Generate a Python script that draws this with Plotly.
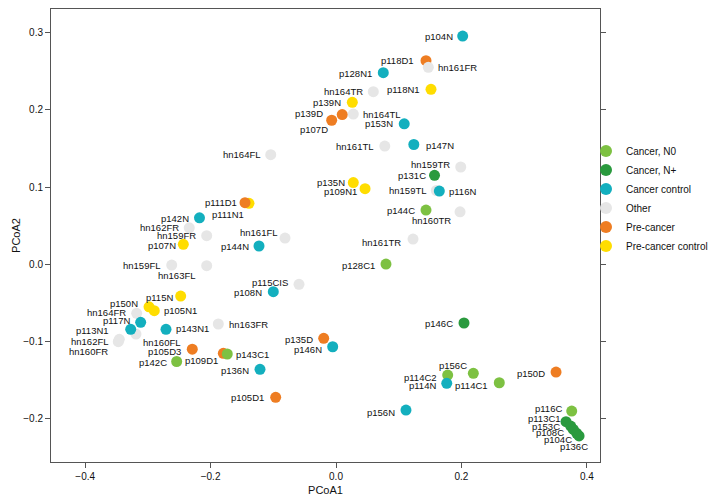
import plotly.graph_objects as go

# ---------------- data ----------------
n0_names = ["p144C", "p128C1", "p143C1", "p142C", "p156C", "p114C2", "p114C1", "p116C"]
n0_x = [0.1435, 0.0797, -0.1734, -0.2541, 0.219, 0.1781, 0.2604, 0.3759]
n0_y = [0.0702, 0.0004, -0.1160, -0.1257, -0.1410, -0.1432, -0.1532, -0.1898]

np_names = ["p131C", "p146C", "p113C1", "p153C", "p108C", "p104C", "p136C"]
np_x = [0.1571, 0.2041, 0.3668, 0.3743, 0.3785, 0.3839, 0.3876]
np_y = [0.1151, -0.0759, -0.2036, -0.2092, -0.2135, -0.2186, -0.2220]

cc_names = ["p104N", "p128N1", "p153N", "p147N", "p116N", "p142N", "p144N", "p108N",
            "p117N", "p113N1", "p143N1", "p136N", "p146N", "p114N", "p156N"]
cc_x = [0.202, 0.0754, 0.1088, 0.1241, 0.1648, -0.2177, -0.1228, -0.1000,
        -0.3115, -0.3274, -0.2711, -0.1212, -0.0053, 0.1766, 0.1116]
cc_y = [0.2953, 0.2479, 0.1818, 0.1550, 0.0948, 0.0602, 0.0237, -0.0354,
        -0.0750, -0.0841, -0.0841, -0.1358, -0.1066, -0.1539, -0.1885]

ot_names = ["hn161FR", "hn164TR", "hn164TL", "hn161TL", "hn164FL", "hn159TR", "hn159TL",
            "hn160TR", "hn161TR", "hn162FR", "hn159FR", "hn159FL", "hn163FL", "hn161FL",
            "p115CIS", "hn163FR", "hn164FR", "hn160FL", "hn162FL", "hn160FR"]
ot_x = [0.1472, 0.0595, 0.0276, 0.0778, -0.1041, 0.1989, 0.1600,
        0.1978, 0.1228, -0.2340, -0.2062, -0.2620, -0.2062, -0.0813,
        -0.0590, -0.1877, -0.3179, -0.3190, -0.3456, -0.3472]
ot_y = [0.2548, 0.2233, 0.1944, 0.1530, 0.1419, 0.1259, 0.0955,
        0.0680, 0.0327, 0.0473, 0.0370, -0.0009, -0.0018, 0.0340,
        -0.0259, -0.0772, -0.0634, -0.0902, -0.0970, -0.1001]

pc_names = ["p118D1", "p139D", "p107D", "p111D1", "p105D3", "p109D1", "p105D1", "p135D", "p150D"]
pc_x = [0.1435, 0.0099, -0.0069, -0.1451, -0.2292, -0.1797, -0.0962, -0.0196, 0.3509]
pc_y = [0.2634, 0.1938, 0.1864, 0.0797, -0.1098, -0.1151, -0.1721, -0.0957, -0.1393]

pcc_names = ["p118N1", "p139N", "p135N", "p109N1", "p111N1", "p107N", "p115N", "p150N", "p105N1"]
pcc_x = [0.1515, 0.0260, 0.0276, 0.0463, -0.1388, -0.2435, -0.2477, -0.2982, -0.2898]
pcc_y = [0.2264, 0.2096, 0.1057, 0.0978, 0.0789, 0.0259, -0.0410, -0.0549, -0.0600]

x_ticks = [-0.4, -0.2, 0.0, 0.2, 0.4]
x_tick_text = ["\u22120.4", "\u22120.2", "0.0", "0.2", "0.4"]
y_ticks = [-0.2, -0.1, 0.0, 0.1, 0.2, 0.3]
y_tick_text = ["\u22120.2", "\u22120.1", "0.0", "0.1", "0.2", "0.3"]

# ---------------- styling ----------------
# (group name, names, x, y, colour, legend rank) in drawing order
groups = [
    ("Pre-cancer control", pcc_names, pcc_x, pcc_y, "#FFDD00", 6),
    ("Pre-cancer", pc_names, pc_x, pc_y, "#EE7D22", 5),
    ("Other", ot_names, ot_x, ot_y, "#E6E6E6", 4),
    ("Cancer, N0", n0_names, n0_x, n0_y, "#7DC142", 1),
    ("Cancer, N+", np_names, np_x, np_y, "#2A9A3E", 2),
    ("Cancer control", cc_names, cc_x, cc_y, "#13AFBE", 3),
]

# label placement: (dx px, dy px downwards, side) side 'r' = text ends at dx, 'l' = text starts at dx
label_pos = {
    "p104N": (-8, 0, "r"), "p118D1": (-10, 0, "r"), "hn161FR": (8, 0, "l"), "p118N1": (-9, 0, "r"),
    "p128N1": (-9, 1, "r"), "hn164TR": (-8, 0, "r"), "p139N": (-9, 0, "r"), "p139D": (-17, -1, "r"),
    "p107D": (-2, 9, "r"), "hn164TL": (8, 0, "l"), "p153N": (-9, 0, "r"), "hn161TL": (-9, 0, "r"),
    "p147N": (10, 1, "l"), "hn164FL": (-8, 0, "r"), "hn159TR": (-9, -3, "r"), "p131C": (-7, 0, "r"),
    "p135N": (-6, 0, "r"), "p109N1": (-6, 3, "r"), "p116N": (8, 0, "l"), "hn159TL": (-7, 0, "r"),
    "p144C": (-9, 0, "r"), "hn160TR": (-7, 9, "r"), "hn161TR": (-10, 3, "r"), "p111D1": (-6, 0, "r"),
    "p111N1": (-3, 11, "r"), "p142N": (-8, 1, "r"), "hn162FR": (-8, 0, "r"), "hn159FR": (-9, 0, "r"),
    "p107N": (-5, 1, "r"), "hn159FL": (-9, 0, "r"), "hn163FL": (-9, 10, "r"), "p144N": (-8, 0, "r"),
    "hn161FL": (-5, -6, "r"), "p128C1": (-9, 1, "r"), "p115CIS": (-9, -2, "r"), "p108N": (-9, 1, "r"),
    "p135D": (-9, 1, "r"), "p146N": (-9, 3, "r"), "p143C1": (7, 0, "l"), "p109D1": (-3, 7, "r"),
    "p136N": (-9, 1, "r"), "p105D1": (-10, 0, "r"), "p105D3": (-9, 2, "r"), "p142C": (-8, 1, "r"),
    "p143N1": (8, -1, "l"), "hn163FR": (9, 0, "l"), "hn160FL": (5, 8, "l"), "p115N": (-6, 1, "r"),
    "p150N": (-9, -3, "r"), "p105N1": (8, 0, "l"), "hn164FR": (-9, -1, "r"), "p117N": (-9, -2, "r"),
    "p113N1": (-20, 1, "r"), "hn162FL": (-8, 2, "r"), "hn160FR": (-8, 10, "r"), "p156C": (-4, -8, "r"),
    "p114C2": (-9, 2, "r"), "p114N": (-9, 2, "r"), "p114C1": (-9, 3, "r"), "p150D": (-9, 1, "r"),
    "p116C": (-8, -3, "r"), "p113C1": (-3, -3, "r"), "p153C": (-9, 0, "r"), "p108C": (-7, 3, "r"),
    "p104C": (-3, 6, "r"), "p136C": (11, 11, "r"), "p146C": (-9, 0, "r"), "p156N": (-9, 2, "r"),
}

FONT = "Liberation Sans, Arial, Helvetica, sans-serif"

# the page body has an 8px margin, so the figure is 8px smaller than the window
FIG_W, FIG_H = 712, 493

fig = go.Figure()
annotations = []
for gname, names, xs, ys, col, rank in groups:
    fig.add_trace(go.Scatter(
        x=xs, y=ys, mode="markers", name=gname, legendrank=rank,
        marker=dict(size=11, color=col, line=dict(width=0)),
        text=names, hovertemplate="%{text}<br>PCoA1=%{x}<br>PCoA2=%{y}<extra></extra>",
    ))
    for nm, xv, yv in zip(names, xs, ys):
        dx, dy, side = label_pos.get(nm, (-9, 0, "r"))
        annotations.append(dict(
            x=xv, y=yv, xref="x", yref="y", text=nm, showarrow=False,
            xanchor="right" if side == "r" else "left", yanchor="middle",
            xshift=dx, yshift=-dy,
            font=dict(family=FONT, size=9.5, color="#111111"),
        ))

axis_common = dict(
    showgrid=False, zeroline=False, showline=True, linecolor="#555555", linewidth=1,
    mirror="ticks", ticks="outside", ticklen=5, tickcolor="#555555", tickwidth=1,
    tickfont=dict(family=FONT, size=10, color="#111111"),
)

fig.update_layout(
    width=FIG_W, height=FIG_H,
    paper_bgcolor="white", plot_bgcolor="white",
    margin=dict(l=43, r=120, t=1, b=39, autoexpand=False),
    font=dict(family=FONT, color="#111111"),
    xaxis=dict(range=[-0.4545, 0.4210], tickvals=x_ticks, ticktext=x_tick_text,
               title=dict(text="PCoA1", font=dict(family=FONT, size=11), standoff=5), **axis_common),
    yaxis=dict(range=[-0.2557, 0.3303], tickvals=y_ticks, ticktext=y_tick_text,
               title=dict(text="PCoA2", font=dict(family=FONT, size=11), standoff=0), **axis_common),
    legend=dict(xref="container", yref="container", x=578 / FIG_W, xanchor="left",
                y=1 - 190.5 / FIG_H, yanchor="middle",
                font=dict(family=FONT, size=10, color="#111111"),
                bgcolor="rgba(0,0,0,0)", itemsizing="constant"),
    annotations=annotations,
    showlegend=True,
)

fig.write_html("out.html")
